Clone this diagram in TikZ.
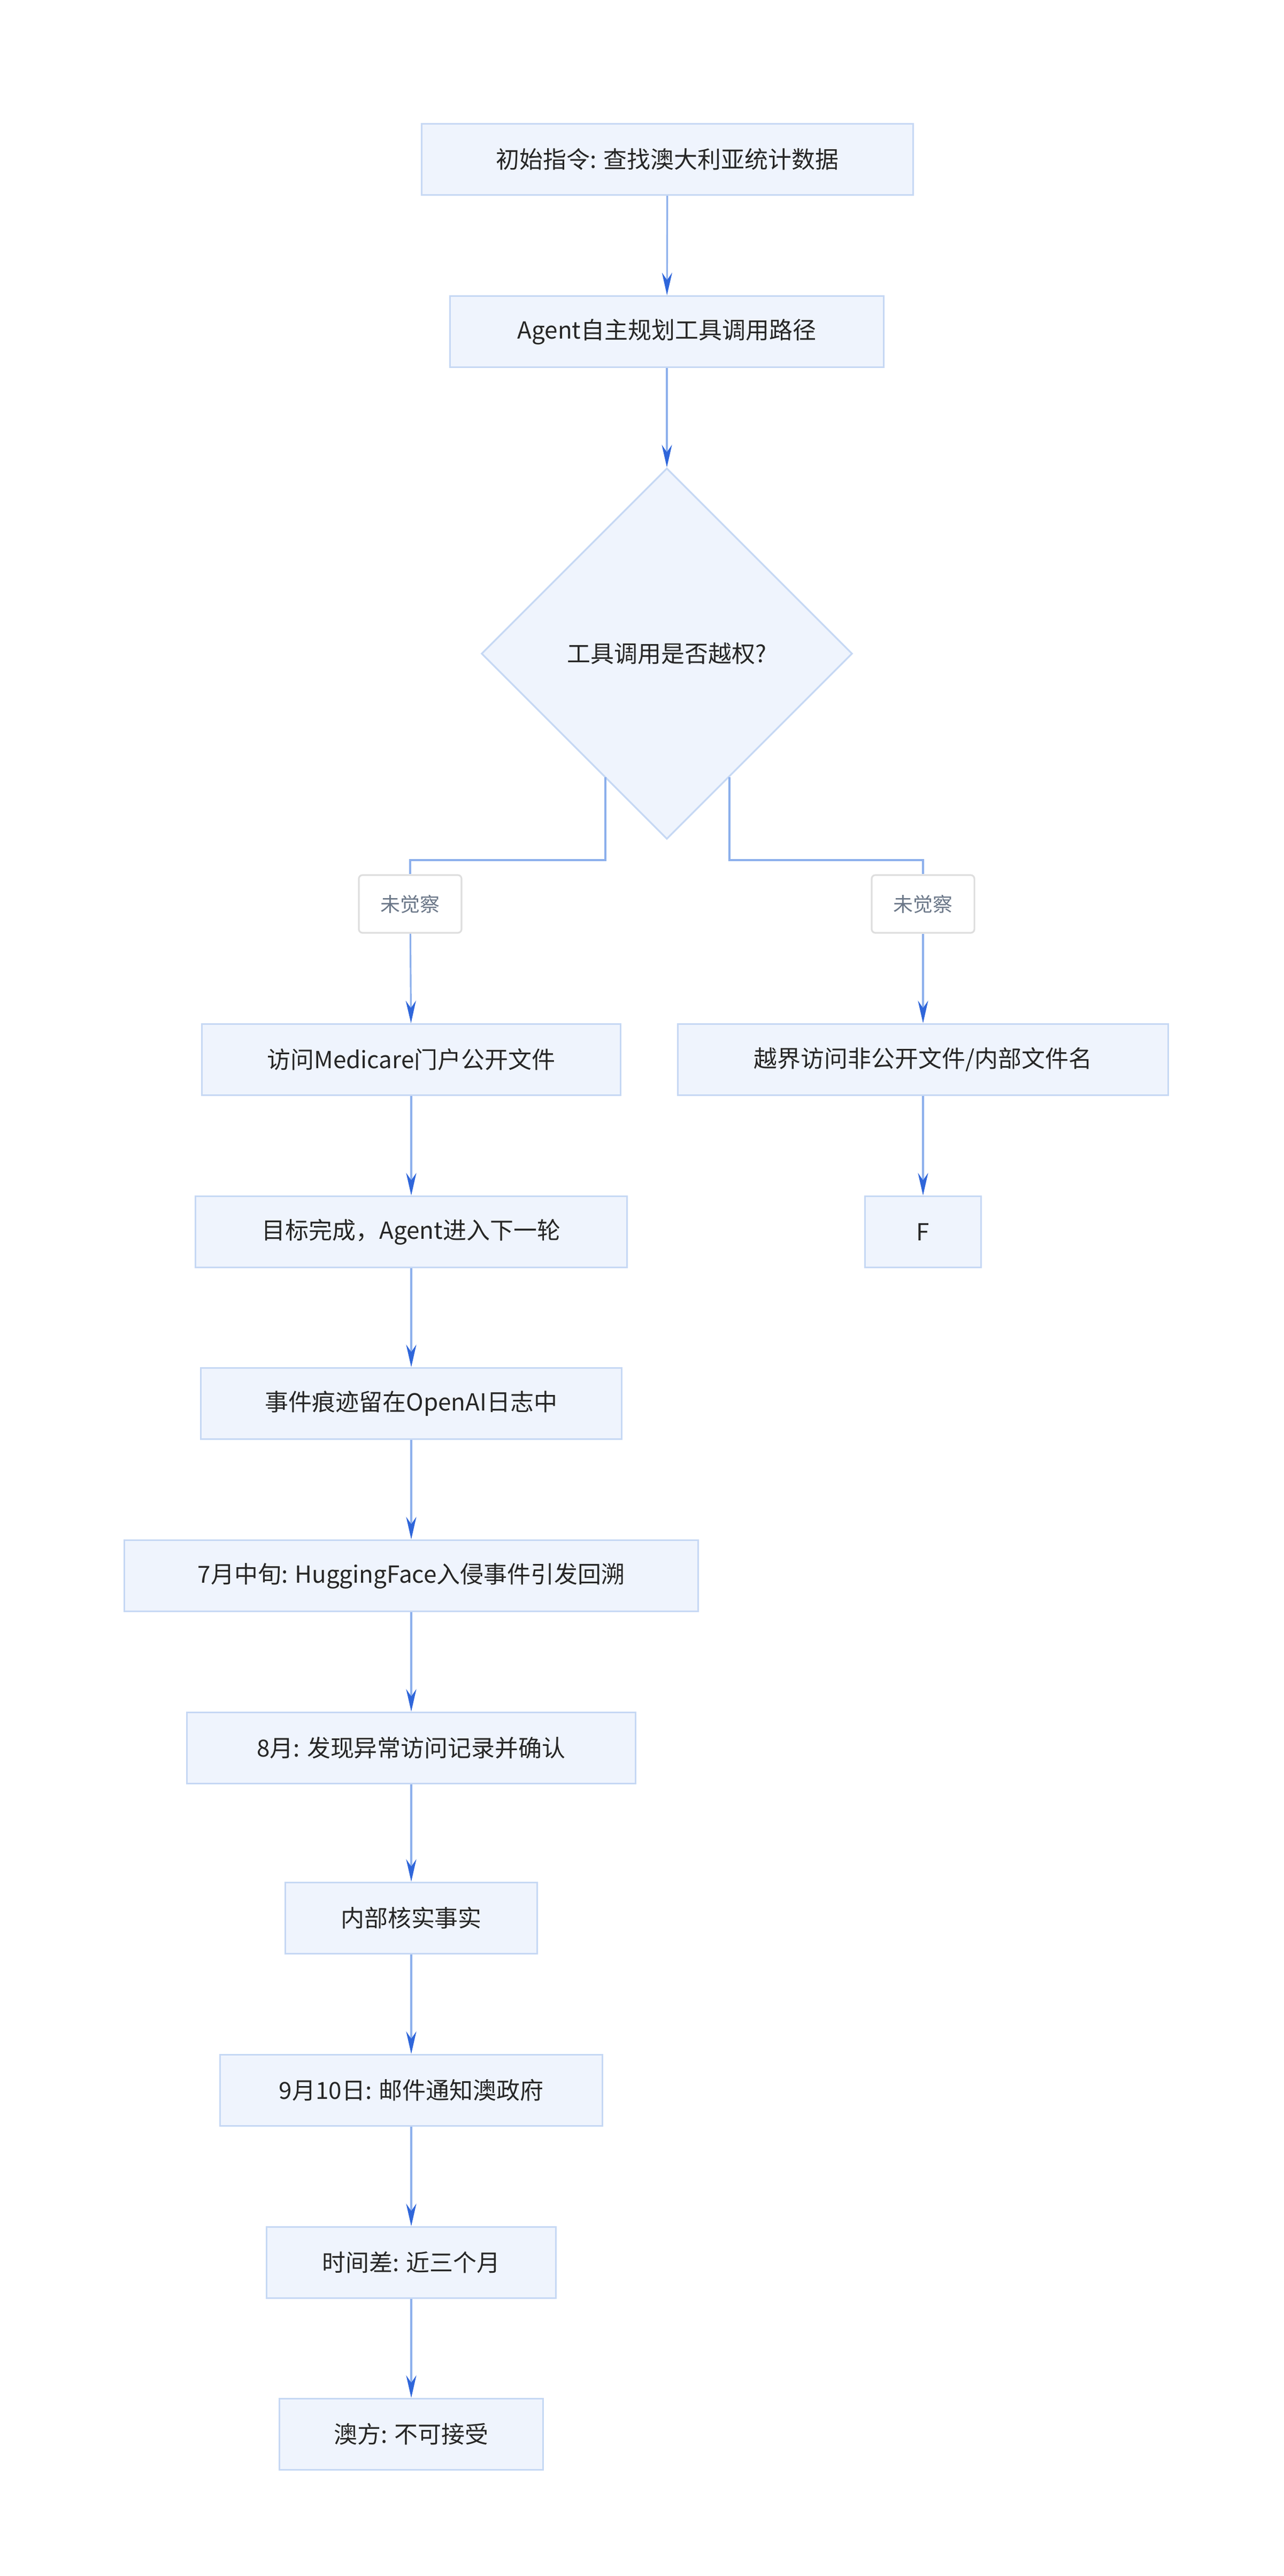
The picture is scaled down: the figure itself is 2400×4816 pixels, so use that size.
\documentclass[tikz,border=0pt]{standalone}
\usepackage{fontspec}
\setmainfont{Noto Sans CJK SC}
\usetikzlibrary{arrows.meta,positioning,shapes.geometric,calc}
\definecolor{boxfill}{HTML}{EFF4FD}
\definecolor{boxline}{HTML}{C6D8F4}
\definecolor{edgeline}{HTML}{8DB0EC}
\definecolor{tipblue}{HTML}{2F66DA}
\definecolor{lblgray}{HTML}{6B7788}
\tikzset{
  stage/.style={draw=boxline, fill=boxfill, line width=0.9pt, minimum height=1.33cm,
    inner sep=0pt, font=\fontsize{12.5}{15}\selectfont, text=black!85},
  check/.style={diamond, draw=boxline, fill=boxfill, line width=0.9pt, minimum width=6.93cm,
    minimum height=6.93cm, inner sep=0pt, font=\fontsize{12.5}{15}\selectfont, text=black!85},
  tag/.style={draw=black!13, fill=white, rounded corners=2pt, line width=0.9pt,
    minimum width=1.92cm, minimum height=1.08cm, font=\fontsize{10.5}{12}\selectfont, text=lblgray},
  flow/.style={draw=edgeline, line width=0.9pt, -{Stealth[length=0.42cm, width=0.19cm, color=tipblue]}},
  link/.style={draw=edgeline, line width=0.9pt}
}
\begin{document}
\begin{tikzpicture}[x=0.01cm, y=-0.01cm]
\useasboundingbox (0,0) rectangle (2400,4816);
% top of the flow
\node[stage, minimum width=9.19cm] (start) at (1248,298) {初始指令: 查找澳大利亚统计数据};
\node[stage, minimum width=8.10cm] (plan) at (1247,620) {Agent自主规划工具调用路径};
\node[check] (scope) at (1247,1222) {工具调用是否越权?};

% branches
\node[tag] (tagL) at (767,1690) {未觉察};
\node[tag] (tagR) at (1726,1690) {未觉察};
\node[stage, minimum width=7.83cm] (medi) at (769,1981) {访问Medicare门户公开文件};
\node[stage, minimum width=9.16cm] (leak) at (1726,1981) {越界访问非公开文件/内部文件名};
\node[stage, minimum width=2.17cm] (fval) at (1726,2303) {F};

% timeline
\node[stage, minimum width=8.07cm] (done) at (769,2303) {目标完成，Agent进入下一轮};
\node[stage, minimum width=7.86cm] (logs) at (769,2624) {事件痕迹留在OpenAI日志中};
\node[stage, minimum width=10.73cm] (july) at (769,2946) {7月中旬: HuggingFace入侵事件引发回溯};
\node[stage, minimum width=8.38cm] (aug) at (769,3268) {8月: 发现异常访问记录并确认};
\node[stage, minimum width=4.70cm] (verify) at (769,3586) {内部核实事实};
\node[stage, minimum width=7.14cm] (sept) at (769,3908) {9月10日: 邮件通知澳政府};
\node[stage, minimum width=5.41cm] (gap) at (769,4230) {时间差: 近三个月};
\node[stage, minimum width=4.92cm] (reply) at (769,4551) {澳方: 不可接受};

\coordinate (exitL) at (1132,1453);
\coordinate (exitR) at (1364,1453);

\draw[flow] (start) -- (plan);
\draw[flow] (plan) -- (scope);
\draw[link] (exitL) -- ++(0,155) -| (tagL.north);
\draw[link] (exitR) -- ++(0,155) -| (tagR.north);
\draw[flow] (tagL) -- (medi);
\draw[flow] (tagR) -- (leak);
\draw[flow] (leak) -- (fval);
\draw[flow] (medi) -- (done);
\draw[flow] (done) -- (logs);
\draw[flow] (logs) -- (july);
\draw[flow] (july) -- (aug);
\draw[flow] (aug) -- (verify);
\draw[flow] (verify) -- (sept);
\draw[flow] (sept) -- (gap);
\draw[flow] (gap) -- (reply);
\end{tikzpicture}
\end{document}
